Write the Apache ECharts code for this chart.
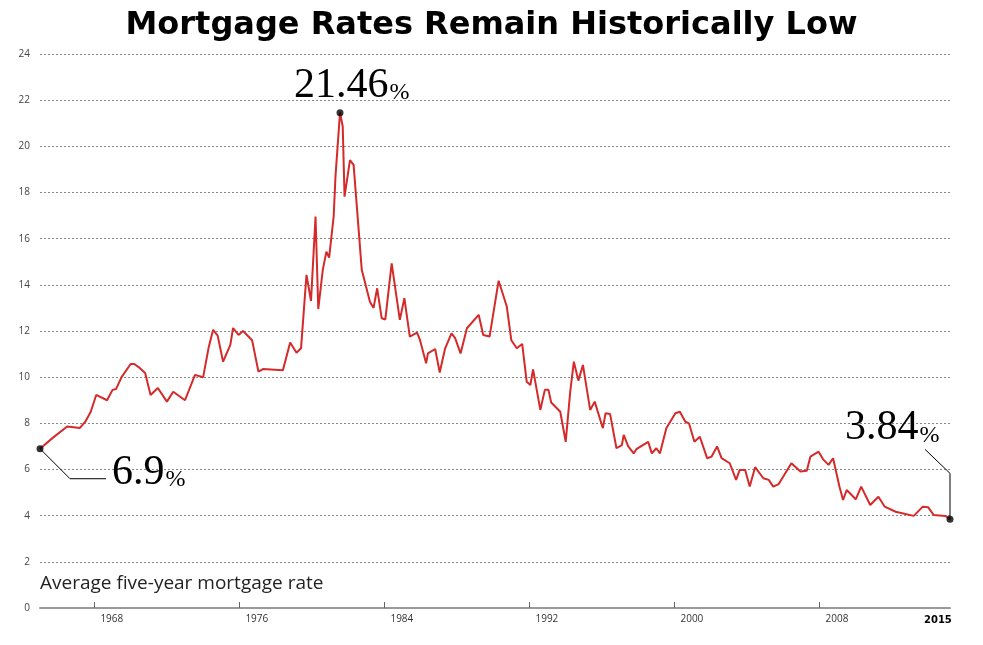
<!DOCTYPE html>
<html>
<head>
<meta charset="utf-8">
<script src="https://cdn.jsdelivr.net/npm/echarts@6/dist/echarts.min.js"></script>
<style>
  html, body { margin: 0; padding: 0; background: #fff; }
  #chart { width: 983px; height: 645px; }
</style>
</head>
<body>
<div id="chart"></div>
<script>
// years (fractional) and average five-year mortgage rate
const years = [1965.0,1965.7,1966.5,1967.2,1967.5,1967.8,1968.1,1968.7,1969.0,1969.2,1969.5,1970.0,1970.2,1970.5,1970.8,1971.1,1971.5,1972.0,1972.35,1973.0,1973.55,1974.0,1974.3,1974.55,1974.8,1975.1,1975.5,1975.65,1975.95,1976.2,1976.7,1977.05,1977.3,1978.4,1978.8,1979.15,1979.4,1979.7,1979.95,1980.2,1980.35,1980.6,1980.8,1980.95,1981.2,1981.3,1981.55,1981.7,1981.8,1982.1,1982.3,1982.4,1982.75,1983.2,1983.4,1983.6,1983.85,1984.05,1984.4,1984.85,1985.1,1985.4,1985.8,1985.95,1986.3,1986.4,1986.8,1987.05,1987.35,1987.7,1987.9,1988.2,1988.55,1989.2,1989.45,1989.8,1990.3,1990.75,1991.0,1991.3,1991.6,1991.85,1992.05,1992.2,1992.6,1992.85,1993.05,1993.2,1993.7,1994.0,1994.25,1994.45,1994.7,1994.95,1995.35,1995.6,1996.05,1996.2,1996.45,1996.8,1997.1,1997.2,1997.45,1997.75,1997.9,1998.55,1998.75,1999.0,1999.2,1999.55,2000.05,2000.3,2000.6,2000.8,2001.1,2001.4,2001.8,2002.05,2002.35,2002.6,2003.05,2003.4,2003.6,2003.9,2004.15,2004.45,2004.9,2005.2,2005.45,2005.75,2006.45,2006.95,2007.3,2007.5,2007.95,2008.2,2008.5,2008.75,2009.1,2009.3,2009.5,2010.0,2010.3,2010.8,2011.25,2011.6,2012.2,2013.2,2013.7,2014.0,2014.3,2014.95,2015.2];
const rates = [6.9,7.37,7.86,7.8,8.07,8.5,9.23,9.0,9.45,9.49,10.0,10.57,10.57,10.4,10.18,9.23,9.53,8.94,9.37,9.0,10.1,10.0,11.27,12.05,11.8,10.67,11.4,12.13,11.83,12.0,11.6,10.24,10.35,10.3,11.5,11.06,11.25,14.43,13.3,16.96,12.95,14.65,15.44,15.18,16.96,18.7,21.46,20.86,17.82,19.4,19.2,19.2,14.65,13.27,13.0,13.85,12.55,12.5,14.93,12.48,13.42,11.76,11.93,11.64,10.6,11.03,11.22,10.2,11.25,11.9,11.69,11.03,12.12,12.7,11.83,11.76,14.18,13.06,11.6,11.25,11.44,9.8,9.66,10.34,8.58,9.45,9.45,8.9,8.5,7.2,9.37,10.67,9.85,10.53,8.58,8.94,7.79,8.44,8.4,6.92,7.06,7.5,7.0,6.7,6.88,7.2,6.7,6.92,6.7,7.79,8.44,8.5,8.07,8.0,7.2,7.42,6.49,6.56,7.0,6.49,6.27,5.55,5.98,5.98,5.26,6.1,5.62,5.55,5.26,5.37,6.27,5.91,5.95,6.56,6.77,6.44,6.2,6.49,5.26,4.68,5.11,4.71,5.26,4.46,4.82,4.39,4.17,3.99,4.39,4.36,4.03,3.99,3.84];
const tickYears = [1968, 1976, 1984, 1992, 2000, 2008];
const highlights = [0, 46, rates.length - 1]; // first, peak, last

const chart = echarts.init(document.getElementById('chart'));
const lineData = years.map((y, i) => [y, rates[i]]);

chart.setOption({
  animation: false,
  title: {
    text: 'Mortgage Rates Remain Historically Low',
    left: 'center', top: 5,
    textStyle: { fontFamily: 'DejaVu Sans', fontWeight: 'bold', fontSize: 32, color: '#000' }
  },
  grid: { left: 40, right: 33, top: 54, bottom: 37 },
  xAxis: {
    type: 'value', min: 1965, max: 2015.2,
    splitLine: { show: false },
    axisLine: { lineStyle: { color: '#999', width: 2 } },
    axisTick: { customValues: tickYears, length: 6, inside: true, lineStyle: { color: '#666' } },
    axisLabel: {
      customValues: tickYears, align: 'left', margin: 6, padding: [0, 0, 0, 6],
      formatter: v => String(v),
      color: '#333', fontFamily: 'Open Sans', fontSize: 10
    }
  },
  yAxis: {
    type: 'value', min: 0, max: 24, interval: 2,
    axisLine: { show: false }, axisTick: { show: false },
    axisLabel: { color: '#444', fontFamily: 'Open Sans', fontSize: 10, margin: 10 },
    splitLine: { lineStyle: { color: '#888', type: [2, 2] } }
  },
  series: [
    {
      type: 'line', data: lineData, showSymbol: false,
      lineStyle: { color: '#d42a2a', width: 2 }, z: 2
    },
    {
      type: 'scatter', data: highlights.map(i => lineData[i]),
      symbolSize: 7, itemStyle: { color: '#000' }, z: 3
    }
  ]
});

// annotations anchored to the data points
const p0 = chart.convertToPixel('grid', lineData[highlights[0]]);
const p1 = chart.convertToPixel('grid', lineData[highlights[1]]);
const p2 = chart.convertToPixel('grid', lineData[highlights[2]]);
const big = (txt, x, y) => ({
  type: 'text', left: x, top: y,
  style: {
    text: '{a|' + txt + '}{b|%}',
    rich: {
      a: { fontFamily: 'Liberation Serif', fontSize: 42, fill: '#000' },
      b: { fontFamily: 'Liberation Serif', fontSize: 24, fill: '#000', verticalAlign: 'bottom', padding: [0, 0, 2, 1] }
    }
  }
});
const ink = { stroke: '#000', lineWidth: 1 };
chart.setOption({
  graphic: [
    big('21.46', p1[0] - 46, p1[1] - 48),
    big('6.9', p0[0] + 72, p0[1] + 3),
    { type: 'polyline', shape: { points: [p0, [p0[0] + 30, p0[1] + 30], [p0[0] + 66, p0[1] + 30]] }, style: ink },
    big('3.84', p2[0] - 105, p2[1] - 112),
    { type: 'polyline', shape: { points: [p2, [p2[0], p2[1] - 46], [p2[0] - 25, p2[1] - 70]] }, style: ink },
    {
      type: 'text', left: 40, top: 574,
      style: { text: 'Average five-year mortgage rate', fontFamily: 'Open Sans', fontSize: 19, fill: '#222' }
    },
    {
      type: 'text', left: 924, top: 615,
      style: { text: '2015', fontFamily: 'DejaVu Sans', fontWeight: 'bold', fontSize: 10, fill: '#000' }
    }
  ]
});
</script>
</body>
</html>
